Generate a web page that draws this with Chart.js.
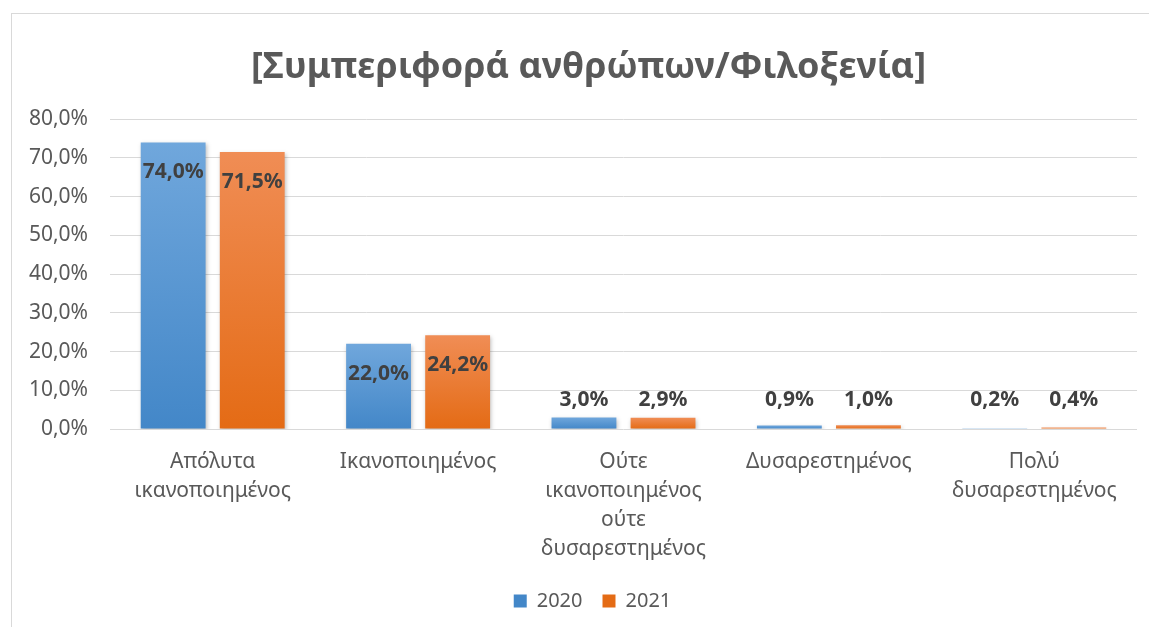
<!DOCTYPE html>
<html lang="el">
<head>
<meta charset="UTF-8" />
<title>Συμπεριφορά ανθρώπων/Φιλοξενία</title>
<script src="https://cdn.jsdelivr.net/npm/chart.js"></script>
<style>
  html, body { margin: 0; padding: 0; background: #fff; overflow: hidden; }
  #frame {
    position: absolute; left: 11px; top: 13px;
    width: 1200px; height: 640px;
    border-left: 1px solid #d9d9d9; border-top: 1px solid #d9d9d9;
  }
  #wrap { position: absolute; left: 0; top: 0; width: 1137px; height: 613px; }
</style>
</head>
<body>
<div id="frame"><div id="wrap"><canvas id="grafico"></canvas></div></div>
<script>
// categorías y valores (%)
const categorias = [
  ['Απόλυτα', 'ικανοποιημένος'],
  'Ικανοποιημένος',
  ['Ούτε', 'ικανοποιημένος', 'ούτε', 'δυσαρεστημένος'],
  'Δυσαρεστημένος',
  ['Πολύ', 'δυσαρεστημένος']
];
const valores2020 = [74.0, 22.0, 3.0, 0.9, 0.2];
const valores2021 = [71.5, 24.2, 2.9, 1.0, 0.4];
const ticksY = [0, 10, 20, 30, 40, 50, 60, 70, 80];

const fmt = v => v.toFixed(1).replace('.', ',') + '%';

// degradado por barra, más claro arriba
function degradado(arriba, abajo) {
  return function (c) {
    const chart = c.chart;
    const y = chart.scales && chart.scales.y;
    if (!chart.chartArea || !y || c.raw === undefined) return abajo;
    const top = y.getPixelForValue(c.raw);
    const bottom = y.getPixelForValue(0);
    const g = chart.ctx.createLinearGradient(0, top, 0, Math.max(bottom, top + 1));
    g.addColorStop(0, arriba);
    g.addColorStop(1, abajo);
    return g;
  };
}

// título y leyenda un poco a la derecha, como en el original
const desplazar = {
  id: 'desplazar',
  afterLayout(chart) {
    if (chart.titleBlock) { chart.titleBlock.left += 8; chart.titleBlock.right += 8; }
    if (chart.legend) { chart.legend.left += 12; chart.legend.right += 12; }
  }
};

// sombra suave de las barras
const sombra = {
  id: 'sombra',
  beforeDatasetsDraw(chart) {
    const ctx = chart.ctx;
    ctx.save();
    ctx.shadowColor = 'rgba(0,0,0,0.25)';
    ctx.shadowBlur = 4;
    ctx.shadowOffsetX = 1;
    ctx.shadowOffsetY = 2;
  },
  afterDatasetsDraw(chart) {
    chart.ctx.restore();
  }
};

// etiquetas de datos
const etiquetas = {
  id: 'etiquetas',
  afterDatasetsDraw(chart) {
    const ctx = chart.ctx;
    const base = chart.scales.y.getPixelForValue(0);
    ctx.save();
    ctx.font = 'bold 21px "Noto Sans"';
    ctx.fillStyle = '#404040';
    ctx.textAlign = 'center';
    ctx.textBaseline = 'middle';
    chart.data.datasets.forEach((ds, i) => {
      chart.getDatasetMeta(i).data.forEach((bar, j) => {
        const alto = base - bar.y;
        const y = alto > 40 ? bar.y + 30 : base - 29;
        ctx.fillText(fmt(ds.data[j]), bar.x, y);
      });
    });
    ctx.restore();
  }
};

new Chart(document.getElementById('grafico'), {
  type: 'bar',
  data: {
    labels: categorias,
    datasets: [
      {
        label: '2020',
        data: valores2020,
        backgroundColor: degradado('#70a7dc', '#4387c8'),
        categoryPercentage: 0.77,
        barPercentage: 0.82
      },
      {
        label: '2021',
        data: valores2021,
        backgroundColor: degradado('#f08d55', '#e46b15'),
        categoryPercentage: 0.77,
        barPercentage: 0.82
      }
    ]
  },
  options: {
    responsive: true,
    maintainAspectRatio: false,
    animation: false,
    layout: { padding: { left: 12, right: 12, top: 0, bottom: 6 } },
    scales: {
      y: {
        min: 0,
        max: 80,
        afterBuildTicks: s => { s.ticks = ticksY.map(v => ({ value: v })); },
        afterFit: s => { s.width = 86; },
        border: { display: false },
        grid: { color: '#d9d9d9', drawTicks: false },
        ticks: {
          padding: 22,
          color: '#595959',
          font: { family: 'Noto Sans', size: 21 },
          callback: v => fmt(v)
        }
      },
      x: {
        afterFit: s => { s.height = 142; },
        border: { display: false },
        grid: { display: false },
        ticks: {
          padding: 11,
          color: '#595959',
          maxRotation: 0,
          font: { family: 'Noto Sans', size: 21, lineHeight: 1.38 }
        }
      }
    },
    plugins: {
      title: {
        display: true,
        text: '[Συμπεριφορά ανθρώπων/Φιλοξενία]',
        color: '#595959',
        font: { family: 'Noto Sans', size: 36, weight: 'bold', lineHeight: 1.2 },
        padding: { top: 32, bottom: 30 }
      },
      legend: {
        position: 'bottom',
        labels: {
          boxWidth: 13,
          boxHeight: 13,
          padding: 20,
          color: '#595959',
          font: { family: 'Noto Sans', size: 20 }
        }
      },
      tooltip: { enabled: false }
    }
  },
  plugins: [desplazar, sombra, etiquetas]
});
</script>
</body>
</html>
